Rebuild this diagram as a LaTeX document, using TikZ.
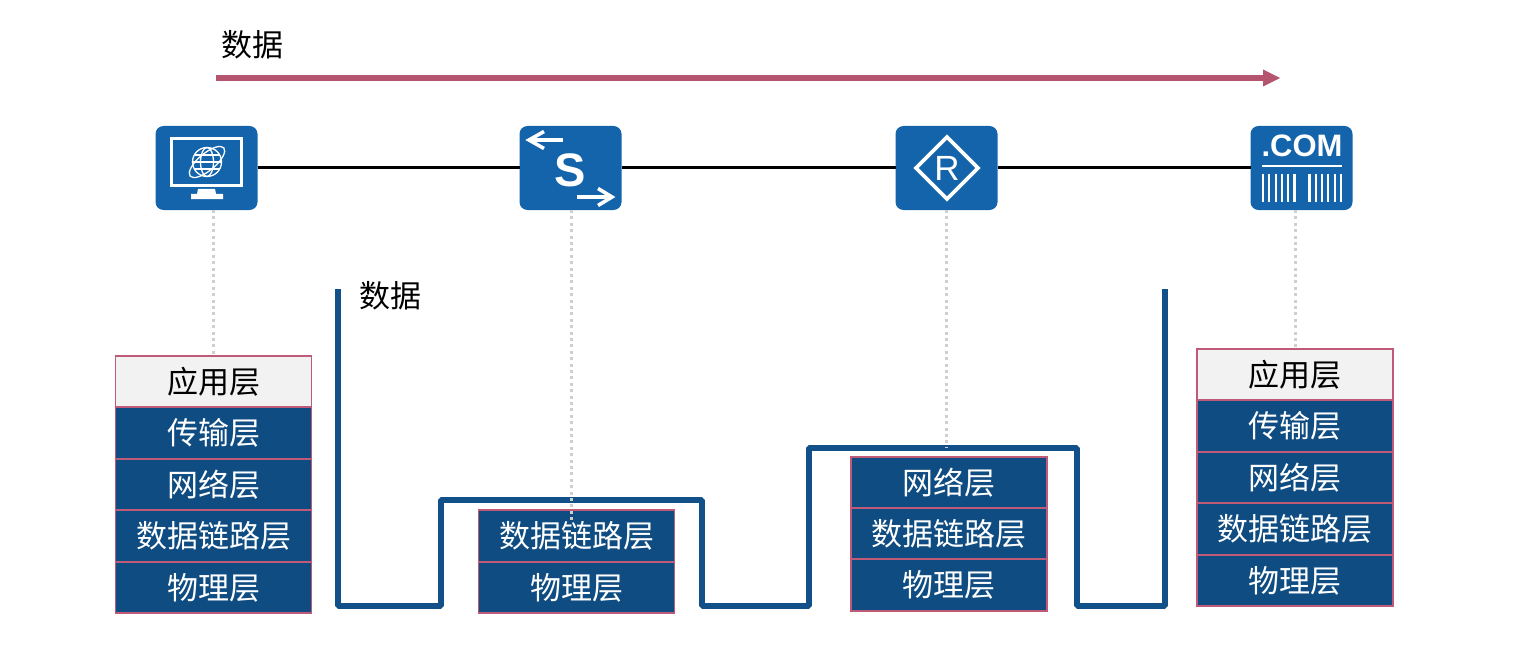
\documentclass[tikz,border=0pt]{standalone}
\usepackage{fontspec}
\setmainfont{Liberation Sans}
\newfontfamily\cjk{Noto Sans CJK SC}
\usetikzlibrary{calc}
\definecolor{iconblue}{HTML}{1464AC}
\definecolor{layerblue}{HTML}{0F4C81}
\definecolor{layerrose}{HTML}{BF5A78}
\definecolor{arrowrose}{HTML}{B5546F}
\definecolor{wireblue}{HTML}{125089}
\definecolor{dotgrey}{HTML}{CFCFCF}
\definecolor{paper}{HTML}{F2F2F2}
\tikzset{
  layerbase/.style={draw=layerrose,line width=1.8pt,minimum width=196pt,minimum height=51.3pt,inner sep=0pt,outer sep=0pt,
    font=\cjk\fontsize{31}{31}\selectfont},
  layerdark/.style={layerbase,fill=layerblue,text=white},
  layerlight/.style={layerbase,fill=paper,text=black},
  device/.style={fill=iconblue,rounded corners=8pt,minimum width=102pt,minimum height=84pt,inner sep=0pt,outer sep=0pt},
  thinglyph/.style={draw=white,line width=1.3pt},
  link/.style={draw=black,line width=3pt},
  drop/.style={draw=dotgrey,line width=3pt,dash pattern=on 3pt off 3.4pt},
  wire/.style={draw=wireblue,line width=5.4pt,line join=bevel},
  caption/.style={font=\cjk\fontsize{31}{31}\selectfont,text=black,inner sep=0pt},
  flow/.style={draw=arrowrose,line width=5.4pt},
  flowhead/.style={fill=arrowrose}
}
\begin{document}
\begin{tikzpicture}[x=1pt,y=-1pt]
\useasboundingbox (0,0) rectangle (1514,663);

% devices
\node[device] (pc) at (206.5,168) {};
\node[device] (sw) at (570.5,168) {};
\node[device] (rt) at (946.5,168) {};
\node[device] (srv) at (1301.5,168) {};

% links
\draw[link] (pc) -- (sw);
\draw[link] (sw) -- (rt);
\draw[link] (rt) -- (srv);

% stacks
\node[layerlight] (a1) at (213.5,381.5) {应用层};
\node[layerdark] (a2) at (213.5,433) {传输层};
\node[layerdark] (a3) at (213.5,484.5) {网络层};
\node[layerdark] (a4) at (213.5,536) {数据链路层};
\node[layerdark] (a5) at (213.5,587.5) {物理层};

\node[layerdark] (b1) at (576.5,536) {数据链路层};
\node[layerdark] (b2) at (576.5,587.5) {物理层};

\node[layerdark] (c1) at (949,482.5) {网络层};
\node[layerdark] (c2) at (949,534) {数据链路层};
\node[layerdark] (c3) at (949,585) {物理层};

\node[layerlight] (d1) at (1295,374.5) {应用层};
\node[layerdark] (d2) at (1295,426) {传输层};
\node[layerdark] (d3) at (1295,477.5) {网络层};
\node[layerdark] (d4) at (1295,529) {数据链路层};
\node[layerdark] (d5) at (1295,580.5) {物理层};

% wire
\coordinate (wa) at (338,289);
\coordinate (wb) at (1165,289);
\draw[wire] (wa) -- (338,606) -- (441,606) -- (441,500) -- (702,500) -- (702,606)
  -- (809,606) -- (809,448) -- (1077,448) -- (1077,606) -- (1165,606) -- (wb);

% dotted drops
\coordinate (swdrop) at (571,523);
\coordinate (rtdrop) at (946,448);
\draw[drop] (pc.south -| a1.north) -- (a1.north);
\draw[drop] (sw.south -| swdrop) -- (swdrop);
\draw[drop] (rt.south -| rtdrop) -- (rtdrop);
\draw[drop] (srv.south -| d1.north) -- (d1.north);

% captions and flow arrow
\node[caption] (t1) at (252,45) {数据};
\node[caption] (t2) at (390,296) {数据};
\coordinate (fa) at (216,78);
\coordinate (fb) at (1265,78);
\draw[flow] (fa) -- (fb);
\fill[flowhead] (1263,69.5) -- (1280,78) -- (1263,86.5) -- cycle;

% PC icon
\draw[white,line width=3pt] (171.5,138.5) rectangle (241.5,185.5);
\fill[white] (198,189) -- (215,189) -- (216,194) -- (223,194) -- (223,199) -- (191,199) -- (191,194) -- (197,194) -- cycle;
\begin{scope}[shift={(207,162)}]
  \draw[thinglyph] (0,0) circle (14.5);
  \draw[thinglyph] (0,0) ellipse (6.5 and 14.5);
  \draw[thinglyph] (-14.5,0) -- (14.5,0);
  \draw[thinglyph] (-12.5,-7) -- (12.5,-7);
  \draw[thinglyph] (-12.5,7) -- (12.5,7);
  \draw[thinglyph,rotate=40] (0,0) ellipse (22 and 8.5);
\end{scope}

% switch icon
\draw[white,line width=3.6pt] (563,140) -- (529,140);
\draw[white,line width=3.6pt,line join=miter] (544,131.5) -- (529,140) -- (544,148.5);
\draw[white,line width=3.6pt] (577,197) -- (612,197);
\draw[white,line width=3.6pt,line join=miter] (598,188.5) -- (612,197) -- (598,205.5);
\node[text=white,font=\bfseries\fontsize{47}{47}\selectfont,inner sep=0pt] (swS) at (570.5,170) {S};

% router icon
\draw[white,line width=3.6pt,line join=miter] (947,137) -- (978,168) -- (947,199) -- (916,168) -- cycle;
\node[text=white,font=\fontsize{35}{35}\selectfont,inner sep=0pt] (rtR) at (947,168) {R};

% server icon
\node[text=white,font=\bfseries\fontsize{31}{31}\selectfont,inner sep=0pt] (srvT) at (1302,146) {.COM};
\draw[white,line width=2.4pt] (1262,166) -- (1342,166);
\foreach \bx in {1263,1269.3,1275.6,1281.9,1288.2,1294.5,1309.5,1315.8,1322.1,1328.4,1334.7,1341}
  \draw[white,line width=2.1pt] (\bx,174) -- (\bx,202);
\end{tikzpicture}
\end{document}
